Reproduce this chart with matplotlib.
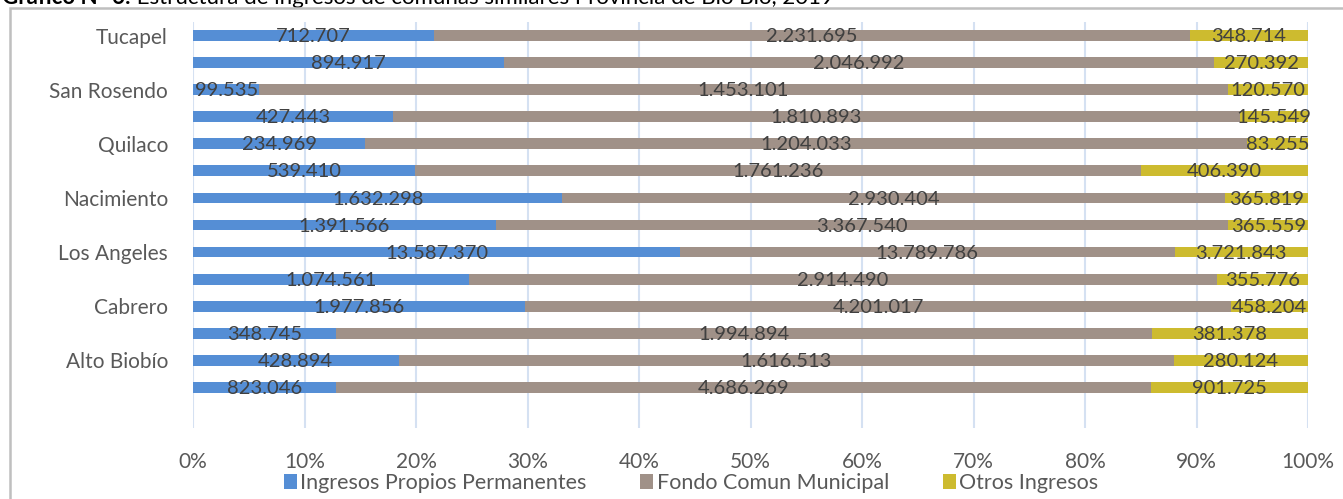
#!/usr/bin/env python3

# Income structure of similar communes, Bio Bio province, 2019
# 100% stacked horizontal bars with the absolute amounts as labels

import numpy as np
from matplotlib import pyplot as plt
from matplotlib.patches import Rectangle
import matplotlib

params = {
    'font.family': ['Lato', 'DejaVu Sans'],
    'font.size': 14.5,
    'figure.dpi': 100,
}
matplotlib.rcParams.update(params)

# communes, top to bottom
comunas = ["Tucapel", "Santa Bárbara", "San Rosendo", "Quilleco", "Quilaco",
           "Negrete", "Nacimiento", "Mulchén", "Los Angeles", "Laja",
           "Cabrero", "Antuco", "Alto Biobío", "Yumbel"]

# amounts in thousands of pesos
propios = [712707, 894917, 99535, 427443, 234969, 539410, 1632298,
           1391566, 13587370, 1074561, 1977856, 348745, 428894, 823046]
fondo = [2231695, 2046992, 1453101, 1810893, 1204033, 1761236, 2930404,
         3367540, 13789786, 2914490, 4201017, 1994894, 1616513, 4686269]
otros = [348714, 270392, 120570, 145549, 83255, 406390, 365819,
         365559, 3721843, 355776, 458204, 381378, 280124, 901725]

series = ["Ingresos Propios Permanentes", "Fondo Comun Municipal", "Otros Ingresos"]
colores = ["#558ED5", "#A09188", "#CDBB2F"]

titulo_bold = "Gráfico N° 6:"
titulo = " Estructura de ingresos de comunas similares Provincia de Bío Bío, 2019"

W, H = 1343, 499
fig = plt.figure(figsize=(W / 100, H / 100), dpi=100)
ax = fig.add_axes([193 / W, 1 - 428 / H, (1308 - 193) / W, (428 - 22) / H])

valores = np.array([propios, fondo, otros], dtype=float)
fracs = valores / valores.sum(axis=0)
y = np.arange(len(comunas))

left = np.zeros(len(comunas))
for k in range(3):
    ax.barh(y, fracs[k], left=left, height=0.4, color=colores[k],
            label=series[k], zorder=3)
    for i in range(len(comunas)):
        txt = f"{int(valores[k, i]):,}".replace(",", ".")
        ax.text(left[i] + fracs[k, i] / 2, y[i] + 0.04, txt,
                ha="center", va="center", color="#404040",
                fontsize=14.5, zorder=5)
    left += fracs[k]

# one empty slot below the last bar
ax.set_ylim(len(comunas) + 0.5, -0.5)
ax.set_xlim(0, 1)

ax.set_yticks(y[::2])
ax.set_yticklabels(comunas[::2], color="#595959", fontsize=15)
ticks = np.linspace(0, 1, 11)
ax.set_xticks(ticks)
ax.set_xticklabels([f"{int(round(t * 100))}%" for t in ticks],
                   color="#595959", fontsize=15)
ax.tick_params(axis="both", length=0)
ax.tick_params(axis="x", pad=17)
ax.tick_params(axis="y", pad=18)

ax.grid(axis="x", color="#D5E1F2", linewidth=1.5, zorder=0)
ax.set_axisbelow(True)
for s in ax.spines.values():
    s.set_visible(False)

fig.legend(loc="center", bbox_to_anchor=(691 / W, 1 - 483 / H), ncol=3,
           frameon=False, fontsize=15.5, handlelength=0.6, handleheight=0.75,
           handletextpad=0.15, columnspacing=2.5, labelcolor="#595959",
           borderaxespad=0, borderpad=0)

# chart frame, only its top and left edges fall inside the image
fig.patches.append(Rectangle((10 / W, -0.2), 1.2, 1 - 8 / H + 0.2,
                             transform=fig.transFigure, fill=False,
                             edgecolor="#BFBFBF", linewidth=1.8))

# title, cut by the top edge
t1 = fig.text(2 / W, 1 - 4 / H, titulo_bold, fontweight="bold",
              fontsize=16, va="baseline", ha="left", color="black")
ax.annotate(titulo, xy=(1, 0), xycoords=t1, va="bottom", ha="left",
            fontsize=16, color="black", annotation_clip=False)

fig.savefig("out.png", dpi=100)
